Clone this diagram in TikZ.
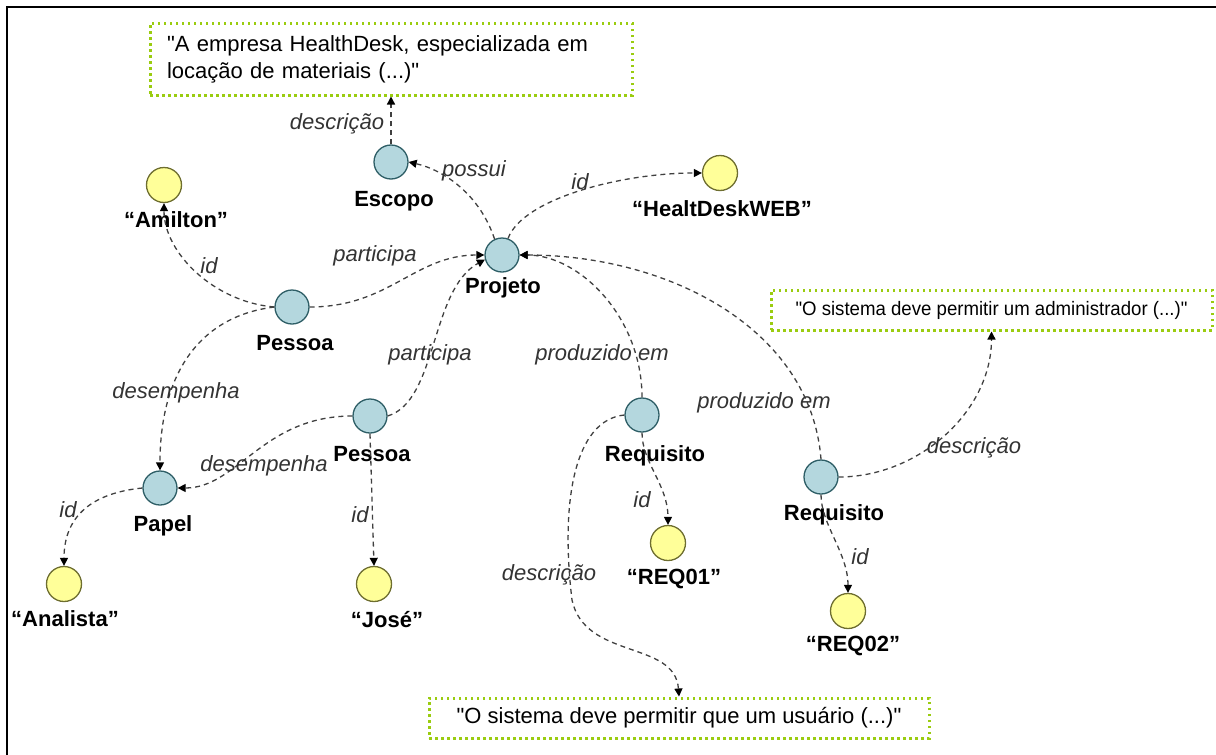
\documentclass[tikz,border=0pt]{standalone}
\usepackage{fontspec}
\setmainfont{Liberation Sans}
\newfontfamily\rawf{Liberation Sans}
\usetikzlibrary{arrows.meta}
\definecolor{bfill}{HTML}{B4D7DE}
\definecolor{bdraw}{HTML}{2E5E66}
\definecolor{yfill}{HTML}{FFFF99}
\definecolor{ydraw}{HTML}{6E6E30}
\definecolor{boxc}{HTML}{9ACC10}
\definecolor{edgec}{HTML}{404040}
\definecolor{lblc}{HTML}{333333}
\begin{document}
\begin{tikzpicture}[x=1pt,y=-1pt,
 bnode/.style={circle,fill=bfill,draw=bdraw,line width=1.3pt,minimum size=34pt,inner sep=0pt},
 ynode/.style={circle,fill=yfill,draw=ydraw,line width=1.3pt,minimum size=35pt,inner sep=0pt},
 nlab/.style={font=\fontsize{22}{26}\selectfont\bfseries,inner sep=0pt},
 elab/.style={font=\fontsize{22}{26}\selectfont\itshape,text=lblc,inner sep=0pt},
 edge/.style={draw=edgec,line width=1.3pt,dash pattern=on 5pt off 4pt,-{Triangle[length=8pt,width=8pt,color=black]}},
 note/.style={draw=boxc,line width=3pt,dash pattern=on 2.5pt off 3.5pt,fill=white,inner sep=0pt,font=\rawf\fontsize{22}{27}\selectfont}
]
\useasboundingbox (0,0) rectangle (1216,755);
\draw[line width=2.5pt] (7,755) -- (7,7) -- (1216,7);

% notes
\node[note,minimum width=482pt,minimum height=72pt,text width=448pt,align=left,inner xsep=17pt] (topbox) at (391,59)
 {"A empresa HealthDesk, especializada em\\locação de materiais (...)"};
\node[note,minimum width=441pt,minimum height=40pt] (rbox) at (991.5,310)
 {\fontsize{19.5}{22}\selectfont\scalebox{0.955}[1]{"O sistema deve permitir um administrador (...)"}};
\node[note,minimum width=500pt,minimum height=40pt] (bbox) at (679,718)
 {"O sistema deve permitir que um usuário (...)"};

% circles
\node[bnode] (esc) at (391,162) {};
\node[bnode] (proj) at (502,255) {};
\node[bnode] (pes1) at (292,307) {};
\node[bnode] (pes2) at (370,416) {};
\node[bnode] (pap) at (160,488) {};
\node[bnode] (req1) at (642,415) {};
\node[bnode] (req2) at (821,477) {};
\node[ynode] (ami) at (164,185) {};
\node[ynode] (hdw) at (720,173) {};
\node[ynode] (ana) at (64,584) {};
\node[ynode] (jose) at (374,584) {};
\node[ynode] (r01) at (668,543) {};
\node[ynode] (r02) at (848,611) {};

% node labels
\node[nlab] (escL) at (394,201) {Escopo};
\node[nlab] (projL) at (503,288) {Projeto};
\node[nlab] (pes1L) at (295,343) {Pessoa};
\node[nlab] (pes2L) at (372,454) {Pessoa};
\node[nlab] (papL) at (163,526) {Papel};
\node[nlab] (req1L) at (655,456) {Requisito};
\node[nlab] (req2L) at (834,515) {Requisito};
\node[nlab] (amiL) at (176,220) {“Amilton”};
\node[nlab] (hdwL) at (722,209) {“HealtDeskWEB”};
\node[nlab] (anaL) at (65,619) {“Analista”};
\node[nlab] (joseL) at (387,620) {“José”};
\node[nlab] (r01L) at (674,579) {“REQ01”};
\node[nlab] (r02L) at (853,646) {“REQ02”};

% edges
\draw[edge] (esc.north) -- (esc.north |- topbox.south);
\draw[edge] (proj.115) .. controls +(-15,-45) and +(35,8) .. (esc.east);
\draw[edge] (proj.70) .. controls +(15,-40) and +(-80,0) .. (hdw.west);
\draw[edge] (pes1.east) .. controls +(80,0) and +(-70,0) .. (proj.west);
\draw[edge] (pes1.west) .. controls +(-60,-5) and +(0,50) .. (ami.south);
\draw[edge] (pes1.west) .. controls +(-80,10) and +(0,-90) .. (pap.north);
\draw[edge] (pes2.east) .. controls +(50,-15) and +(-55,30) .. (proj.195);
\draw[edge] (pes2.west) .. controls +(-90,0) and +(60,0) .. (pap.east);
\draw[edge] (pes2.south) -- (jose.north);
\draw[edge] (pap.west) .. controls +(-50,5) and +(0,-50) .. (ana.north);
\draw[edge] (req1.north) .. controls +(0,-80) and +(60,0) .. (proj.east);
\draw[edge] (req2.north) .. controls +(-10,-130) and +(150,0) .. (proj.east);
\draw[edge] (req1.south) .. controls +(0,30) and +(0,-40) .. (r01.north);
\draw[edge] (req1.west) .. controls (575,420) and (560,500) .. (572,600) .. controls (585,660) and (675,640) .. (bbox.north);
\draw[edge] (req2.east) .. controls +(80,0) and +(0,80) .. (rbox.south);
\draw[edge] (req2.south) .. controls +(0,30) and +(0,-40) .. (r02.north);

% edge labels
\node[elab] (l1) at (337,124) {descrição};
\node[elab] (l2) at (474,171) {possui};
\node[elab] (l3) at (580,182) {id};
\node[elab] (l4) at (209,266) {id};
\node[elab] (l5) at (375,256) {participa};
\node[elab] (l6) at (430,355) {participa};
\node[elab] (l7) at (176,393) {desempenha};
\node[elab] (l8) at (264,466) {desempenha};
\node[elab] (l9) at (68,510) {id};
\node[elab] (l10) at (360,515) {id};
\node[elab] (l11) at (602,355) {produzido em};
\node[elab] (l12) at (764,403) {produzido em};
\node[elab] (l13) at (642,500) {id};
\node[elab] (l14) at (549,575) {descrição};
\node[elab] (l15) at (974,448) {descrição};
\node[elab] (l16) at (860,557) {id};
\end{tikzpicture}
\end{document}
